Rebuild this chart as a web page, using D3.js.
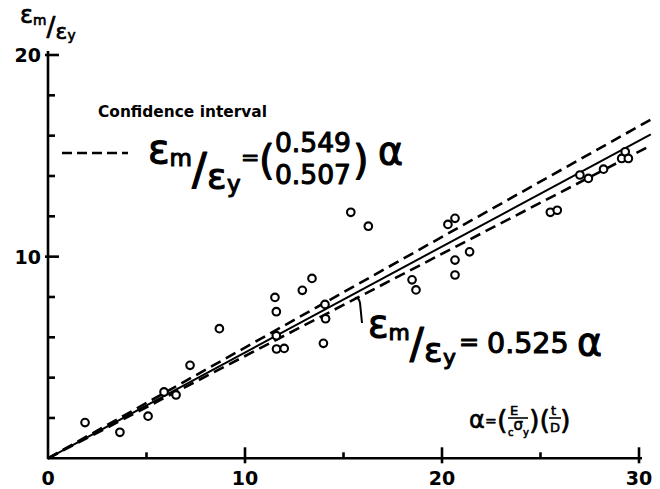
<!DOCTYPE html>
<html>
<head>
<meta charset="utf-8">
<script src="https://cdn.jsdelivr.net/npm/d3@7"></script>
<style>
  html, body { margin: 0; padding: 0; background: #fff; }
  svg { display: block; }
  text { font-family: "DejaVu Sans", sans-serif; fill: #000; }
  text.eq { stroke: #000; stroke-linejoin: round; }
</style>
</head>
<body>
<svg id="chart" width="660" height="489"></svg>
<script>
// Measured strain ratio versus slenderness parameter alpha
const alpha = [1.88, 3.65, 5.08, 5.89, 6.50, 7.21, 8.70, 11.52, 11.59, 11.59, 11.60, 11.99,
               12.91, 13.40, 13.98, 14.06, 14.09, 15.37, 16.26, 18.48, 18.68, 20.30, 20.66,
               20.66, 20.66, 21.40, 25.50, 25.85, 27.00, 27.43, 28.20, 29.12, 29.30, 29.46];
const ratio = [1.77, 1.29, 2.09, 3.29, 3.14, 4.61, 6.43, 7.98, 7.27, 6.08, 5.42, 5.45,
               8.33, 8.92, 5.70, 7.63, 6.92, 12.20, 11.51, 8.85, 8.35, 11.60, 11.90,
               9.83, 9.09, 10.24, 12.20, 12.30, 14.05, 13.88, 14.34, 14.87, 15.20, 14.87];

// Regression line and its confidence interval (slopes through the origin)
const fitSlope = 0.525;
const upperSlope = 0.549;
const lowerSlope = 0.507;
const lineAlphaMax = 30.6;

// Axis ticks
const xTicks = [5, 10, 15, 20, 25, 30];
const xLabels = [0, 10, 20, 30];
const yTicks = [2, 4, 6, 8, 10, 12, 14, 16, 18, 20];
const yLabels = [10, 20];

const svg = d3.select("#chart");
const x = d3.scaleLinear().domain([0, 30]).range([48, 639]);
const y = d3.scaleLinear().domain([0, 20]).range([458.3, 55]);

// Axes
const axes = svg.append("g").attr("stroke", "#000").attr("stroke-width", 2.6).attr("fill", "none");
axes.append("line").attr("x1", x(0)).attr("x2", x(30) + 3).attr("y1", y(0)).attr("y2", y(0));
axes.append("line").attr("x1", x(0)).attr("x2", x(0)).attr("y1", y(0) + 1).attr("y2", y(20) - 4);

xTicks.forEach(t => {
  const major = t % 10 === 0;
  axes.append("line")
    .attr("x1", x(t)).attr("x2", x(t))
    .attr("y1", y(0) + (major ? 5 : 0)).attr("y2", y(0) - (major ? 11 : 6));
});
yTicks.forEach(t => {
  const major = t % 10 === 0;
  axes.append("line")
    .attr("y1", y(t)).attr("y2", y(t))
    .attr("x1", x(0) - (major ? 3 : 0)).attr("x2", x(0) + (major ? 11 : 7));
});

svg.append("g").selectAll("text").data(xLabels).join("text")
  .attr("x", d => x(d)).attr("y", y(0) + 27)
  .attr("text-anchor", "middle")
  .style("font-size", "19px").style("font-weight", "bold")
  .text(d => d);
svg.append("g").selectAll("text").data(yLabels).join("text")
  .attr("x", x(0) - 7).attr("y", d => y(d) + 7)
  .attr("text-anchor", "end")
  .style("font-size", "19px").style("font-weight", "bold")
  .text(d => d);

// Fitted line and confidence band
const lineFor = slope => d3.line()
  .x(a => x(a)).y(a => y(slope * a))([0, lineAlphaMax]);

svg.append("path").attr("d", lineFor(fitSlope))
  .attr("fill", "none").attr("stroke", "#000").attr("stroke-width", 2);
[upperSlope, lowerSlope].forEach(s => {
  svg.append("path").attr("d", lineFor(s))
    .attr("fill", "none").attr("stroke", "#000").attr("stroke-width", 2.6)
    .attr("stroke-dasharray", "11,6");
});

// Observations
svg.append("g").selectAll("circle").data(alpha).join("circle")
  .attr("cx", d => x(d)).attr("cy", (d, i) => y(ratio[i]))
  .attr("r", 3.8)
  .attr("fill", "#fff").attr("stroke", "#000").attr("stroke-width", 2.1);

// A typeset expression: one text element whose pieces are placed individually
function expr(pieces, weight) {
  const t = svg.append("text").attr("class", "eq").attr("stroke-width", weight);
  pieces.forEach(p => {
    t.append("tspan").attr("x", p[0]).attr("y", p[1])
      .style("font-size", p[3] + "px").text(p[2]);
  });
  return t;
}

// Pieces of the strain ratio symbol epsilon_m / epsilon_y at an origin and scale
function strainRatio(ox, oy, s) {
  return [
    [ox, oy, "ε", 40 * s],
    [ox + 21.6 * s, oy + 3 * s, "m", 23 * s],
    [ox + 44 * s, oy + 22 * s, "/", 44 * s],
    [ox + 59 * s, oy + 26 * s, "ε", 36 * s],
    [ox + 79 * s, oy + 29 * s, "y", 23 * s]
  ];
}

// Axis title
expr(strainRatio(20, 23, 0.6), 0.7);

// Legend for the confidence interval
svg.append("text").attr("x", 98).attr("y", 117)
  .attr("textLength", 169).attr("lengthAdjust", "spacingAndGlyphs")
  .style("font-size", "15px").style("font-weight", "bold")
  .text("Confidence interval");
svg.append("line").attr("x1", 62).attr("x2", 128).attr("y1", 153).attr("y2", 153)
  .attr("stroke", "#000").attr("stroke-width", 2.6).attr("stroke-dasharray", "10,5");
expr(strainRatio(148, 163, 1).concat([
  [241, 165, "=", 22],
  [259, 174, "(", 40],
  [275, 152, upperSlope.toFixed(3), 26.5],
  [275, 184, lowerSlope.toFixed(3), 26.5],
  [353, 174, ")", 40],
  [378, 164, "α", 38]
]), 1.1);

// Label for the fitted line with its leader
svg.append("path").attr("d", "M362,323 L360,303 Q359,297 355,298")
  .attr("fill", "none").attr("stroke", "#000").attr("stroke-width", 2);
expr(strainRatio(368, 337, 0.95).concat([
  [459, 350, "=", 24],
  [487, 353, fitSlope.toFixed(3), 28.5],
  [577, 355, "α", 38]
]), 1.1);

// Definition of alpha
expr([
  [469, 428, "α", 24],
  [485, 426, "=", 14],
  [497, 429, "(", 27],
  [510, 415, "E", 13],
  [508, 436, "c", 10],
  [513.5, 430, "σ", 15],
  [523, 436, "y", 10],
  [529, 429, ")", 27],
  [539.5, 429, "(", 27],
  [551, 415, "t", 13],
  [550, 432, "D", 13],
  [560, 429, ")", 27]
], 0.6);
svg.append("g").attr("stroke", "#000").attr("stroke-width", 1.6)
  .selectAll("line").data([[508, 528], [549, 561]]).join("line")
  .attr("x1", d => d[0]).attr("x2", d => d[1]).attr("y1", 418).attr("y2", 418);
</script>
</body>
</html>
